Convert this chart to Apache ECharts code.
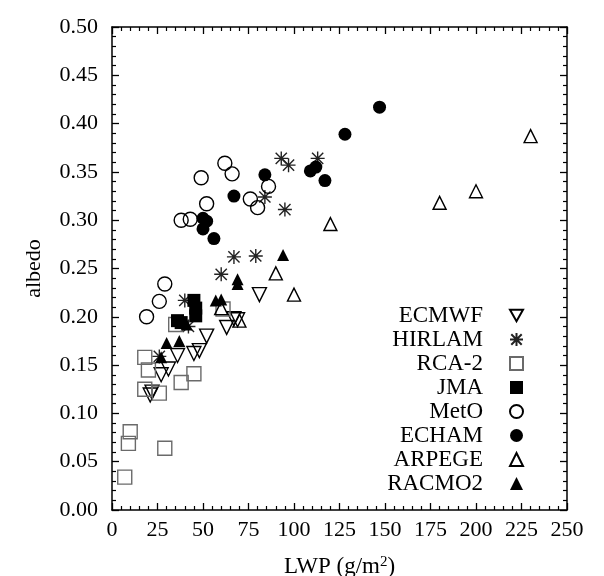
<!DOCTYPE html>
<html>
<head>
<meta charset="utf-8">
<script src="https://cdn.jsdelivr.net/npm/echarts@6/dist/echarts.min.js"></script>
<style>
  html, body { margin: 0; padding: 0; background: #fff; }
  #chart { width: 604px; height: 576px; }
</style>
</head>
<body>
<div id="chart"></div>
<script>
// data: [LWP, albedo]
const ecmwf = [[81, 0.223], [67, 0.198], [69, 0.197], [63, 0.189], [52, 0.180], [45, 0.162],
    [48, 0.165], [36, 0.160], [31, 0.146], [27, 0.140], [22, 0.122], [21, 0.119]];
const hirlam = [[93, 0.364], [97, 0.357], [113, 0.364], [84, 0.324], [95, 0.311], [67, 0.262],
    [79, 0.263], [60, 0.244], [40, 0.217], [42, 0.190], [26, 0.159]];
const rca2 = [[18, 0.158], [20, 0.145], [45, 0.141], [38, 0.132], [18, 0.125], [26, 0.121],
    [10, 0.081], [9, 0.069], [29, 0.064], [7, 0.034], [61, 0.208], [35, 0.192]];
const jma = [[45, 0.217], [46, 0.209], [46, 0.201], [36, 0.196], [38, 0.194]];
const meto = [[62, 0.359], [66, 0.348], [49, 0.344], [52, 0.317], [38, 0.300], [43, 0.301],
    [76, 0.322], [80, 0.313], [86, 0.335], [29, 0.234], [26, 0.216], [19, 0.200]];
const echam = [[147, 0.417], [128, 0.389], [109, 0.351], [112, 0.355], [117, 0.341], [84, 0.347],
    [67, 0.325], [50, 0.302], [52, 0.299], [50, 0.291], [56, 0.281]];
const arpege = [[230, 0.387], [200, 0.330], [180, 0.318], [120, 0.296], [100, 0.223], [90, 0.245],
    [70, 0.196], [60, 0.209]];
const racmo2 = [[94, 0.264], [69, 0.239], [69, 0.234], [57, 0.217], [60, 0.218], [41, 0.192],
    [30, 0.173], [37, 0.175], [27, 0.158]];

const xTicks = [0, 25, 50, 75, 100, 125, 150, 175, 200, 225, 250];
const yTicks = [0, 0.05, 0.10, 0.15, 0.20, 0.25, 0.30, 0.35, 0.40, 0.45, 0.50];

const font = 'Liberation Serif';
const downTri = 'path://M0,0L10,0L5,8.66Z';
const star = 'path://M5,0L5,10M0,5L10,5M1,1L9,9M9,1L1,9';

let myChart = echarts.init(document.getElementById('chart'));

function axisBase(pos, show, margin) {
    return {
        position: pos,
        axisLine: { show: true, onZero: false, lineStyle: { color: '#000', width: 1.5 } },
        axisTick: { show: true, inside: true, length: 7, lineStyle: { color: '#000', width: 1.3 } },
        minorTick: { show: true, splitNumber: 5, length: 4, lineStyle: { color: '#000', width: 1.2 } },
        splitLine: { show: false },
        axisLabel: { show: show, color: '#000', fontFamily: font, fontSize: 22, margin: margin }
    };
}

function open(name, symbol, data, size, color) {
    return {
        name: name, type: 'scatter', data: data, symbol: symbol, symbolSize: size,
        itemStyle: { color: 'rgba(255,255,255,0)', borderColor: color, borderWidth: 1.4, opacity: 1 }
    };
}
function filled(name, symbol, data, size) {
    return {
        name: name, type: 'scatter', data: data, symbol: symbol, symbolSize: size,
        itemStyle: { color: '#000', opacity: 1 }
    };
}

const yBase = axisBase('left', true, 14);

option = {
    backgroundColor: '#fff',
    animation: false,
    grid: { left: 112, right: 37, top: 27, bottom: 66, containLabel: false, outerBoundsMode: 'none' },
    xAxis: [
        Object.assign({}, axisBase('bottom', true, 9), {
            type: 'value', min: xTicks[0], max: xTicks[xTicks.length - 1], interval: 25,
            name: '{a|LWP (g/m}{b|2}{a|)}', nameLocation: 'middle', nameGap: 45,
            nameTextStyle: {
                rich: {
                    a: { fontFamily: font, fontSize: 23, color: '#000' },
                    b: { fontFamily: font, fontSize: 15, color: '#000', verticalAlign: 'top', padding: [0, 0, 9, 0] }
                }
            }
        }),
        Object.assign({}, axisBase('top', false, 8), {
            type: 'value', min: 0, max: 250, interval: 25
        })
    ],
    yAxis: [
        Object.assign({}, yBase, {
            type: 'value', min: yTicks[0], max: yTicks[yTicks.length - 1], interval: 0.05,
            axisLabel: Object.assign({}, yBase.axisLabel, { formatter: v => v.toFixed(2) }),
            name: 'albedo', nameLocation: 'middle', nameGap: 67,
            nameTextStyle: { fontFamily: font, fontSize: 22, color: '#000' }
        }),
        Object.assign({}, axisBase('right', false, 8), {
            type: 'value', min: 0, max: 0.5, interval: 0.05
        })
    ],
    legend: {
        orient: 'vertical',
        align: 'right',
        right: 80,
        top: 304,
        padding: 0,
        itemWidth: 13,
        itemHeight: 13,
        itemGap: 1,
        textStyle: { fontFamily: font, fontSize: 23, color: '#000', padding: [0, 22, 0, 0] },
        data: ['ECMWF', 'HIRLAM', 'RCA-2', 'JMA', 'MetO', 'ECHAM', 'ARPEGE', 'RACMO2']
    },
    series: [
        open('ECMWF', downTri, ecmwf, 14, '#000'),
        open('HIRLAM', star, hirlam, 14, '#222'),
        open('RCA-2', 'rect', rca2, 14, '#6a6a6a'),
        filled('JMA', 'rect', jma, 13),
        open('MetO', 'circle', meto, 14, '#000'),
        filled('ECHAM', 'circle', echam, 13),
        open('ARPEGE', 'triangle', arpege, 13, '#000'),
        filled('RACMO2', 'triangle', racmo2, 12)
    ]
};

myChart.setOption(option);
</script>
</body>
</html>
